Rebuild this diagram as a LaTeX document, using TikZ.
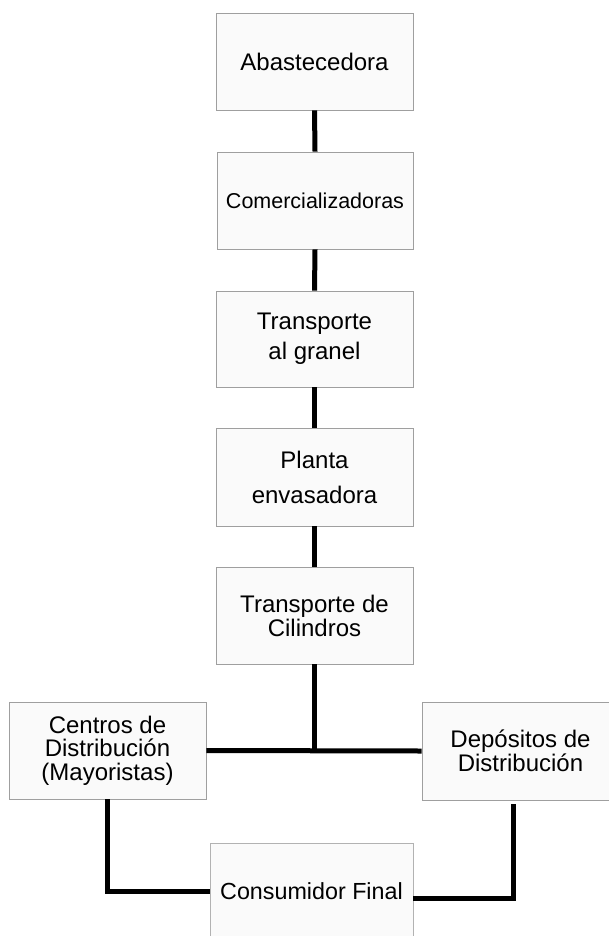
\documentclass[tikz,border=0pt]{standalone}
\usepackage{fontspec}
\setmainfont{Liberation Sans}
\usetikzlibrary{shadows}
\begin{document}
\begin{tikzpicture}[x=1pt,y=-1pt,
  boxbase/.style={draw=gray!75, line width=0.8pt, fill=white!98!black, inner sep=0pt,
    minimum width=197pt, minimum height=97pt, align=center, text=black},
  box/.style={boxbase, drop shadow={shadow xshift=1.3pt, shadow yshift=-1.3pt, fill=gray!80, opacity=1}},
  txt/.style={font=\fontsize{24}{#1}\selectfont},
  link/.style={line width=5pt, black}]
\useasboundingbox (0,0) rectangle (608,936);
\fill[white] (0,0) rectangle (608,936);
\node[box, txt=24] (ab) at (314.5,61.5) {Abastecedora};
\node[box, font=\fontsize{21.5}{24}\selectfont, minimum width=196pt] (com) at (315,200.5) {Comercializadoras};
\node[box, txt=30, minimum height=96pt] (tr) at (314.5,339) {Transporte\\al granel};
\node[box, txt=35, minimum height=98pt] (pl) at (314.5,477) {Planta\\envasadora};
\node[box, txt=24] (tc) at (314.5,615.5) {Transporte de\\Cilindros};
\node[box, txt=23.5] (ce) at (107.5,750.5) {Centros de\\Distribución\\(Mayoristas)};
\node[box, txt=24, minimum height=98pt] (de) at (520.5,751) {Depósitos de\\Distribución};
\node[boxbase, draw=gray!60, font=\fontsize{23.3}{24}\selectfont, minimum width=203pt] (cf) at (311.5,891.5) {Consumidor Final};
\draw[link] (ab.south) -- (com.north);
\draw[link] (com.south) -- (tr.north);
\draw[link] (tr.south) -- (pl.north);
\draw[link] (pl.south) -- (tc.north);
\draw[link] (tc.south) -- (tc.south |- ce.east);
\draw[link] (ce.east) -- (de.west);
\draw[link] (ce.south) |- (cf.west);
\draw[link] ([xshift=-7.5pt,yshift=-4pt]de.south) |- ([yshift=-6.5pt]cf.east);
\end{tikzpicture}
\end{document}
